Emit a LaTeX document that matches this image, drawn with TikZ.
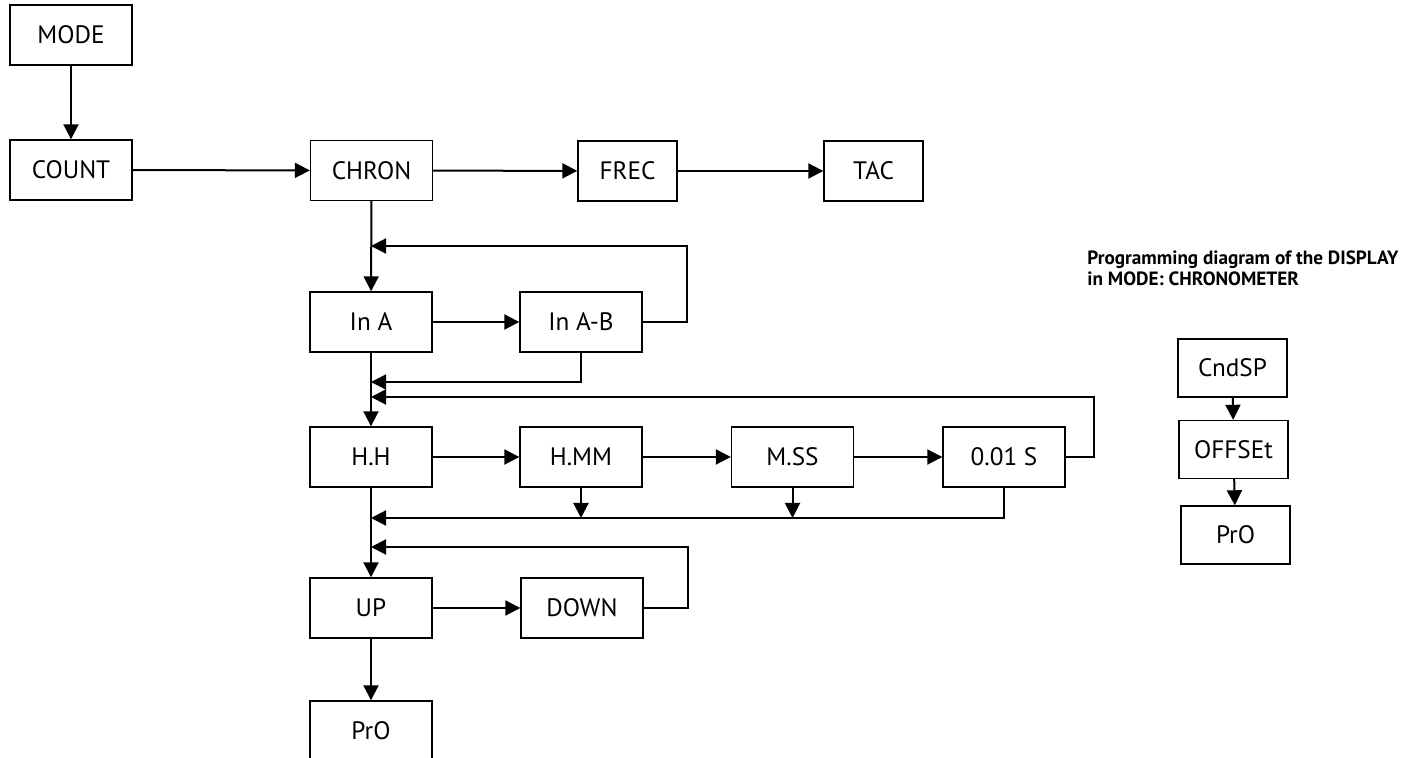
\documentclass[tikz,border=0pt]{standalone}
\usepackage{fontspec}
\setmainfont{PT Sans}
\usetikzlibrary{arrows.meta}

\tikzset{
  box/.style={draw, line width=0.7pt, minimum width=61pt, minimum height=30pt,
    inner sep=0pt, font=\fontsize{12.6}{14}\selectfont},
  smallbox/.style={box, minimum width=49.5pt},
  sidebox/.style={box, minimum width=54.5pt, minimum height=29pt},
  arr/.style={-{Triangle[length=7.5pt,width=7.5pt]}, line width=1pt},
  thinarr/.style={arr, line width=0.7pt}
}

\begin{document}
\begin{tikzpicture}[x=0.5pt, y=-0.5pt]
    % --- frame of the page ---
    \useasboundingbox (0,0) rectangle (1426,758);

    % --- top row ---
    \node[box] (mode)  at (71,35)     {MODE};
    \node[box] (count) at (71,170)    {COUNT};
    \node[box] (chron) at (371.5,170.5) {CHRON};
    \node[smallbox] (frec) at (627.5,171) {FREC};
    \node[smallbox] (tac)  at (873.5,171) {TAC};

    % --- input ---
    \node[box] (ina)  at (371,322) {In A};
    \node[box] (inab) at (581,322) {In A-B};

    % --- time format ---
    \node[box] (hh)  at (371,457)    {H.H};
    \node[box] (hmm) at (581,457)    {H.MM};
    \node[box] (mss) at (792.5,457)  {M.SS};
    \node[box] (cs)  at (1004,457)   {0.01 S};

    % --- direction ---
    \node[box] (up)   at (371,608) {UP};
    \node[box] (down) at (582,608) {DOWN};
    \node[box] (pro)  at (371,731) {PrO};

    % --- junctions on the main line ---
    \coordinate (jin)   at (371,246);
    \coordinate (jfmt)  at (371,382);
    \coordinate (jfmtb) at (371,397);
    \coordinate (jdir)  at (371,518);
    \coordinate (jud)   at (371,547);

    % --- side column ---
    \node[anchor=north west, align=left, inner sep=0pt,
          font=\bfseries\fontsize{9.6}{10.6}\selectfont] (title) at (1087,250)
          {Programming diagram of the DISPLAY\\in MODE: CHRONOMETER};
    \node[sidebox] (cndsp)  at (1232.5,368) {CndSP};
    \node[sidebox] (offset) at (1233.5,449.5) {OFFSEt};
    \node[sidebox] (pro2)   at (1235.5,535) {PrO};

    % --- connectors ---
    \draw[arr] (mode) -- (count);
    \draw[arr] (count) -- (chron);
    \draw[arr] (chron) -- (frec);
    \draw[arr] (frec) -- (tac);

    \draw[arr] (chron) -- (ina);
    \draw[arr] (ina) -- (inab);
    \draw[arr] (inab.east) -- ++(44,0) |- (jin);

    \draw[arr] (ina) -- (hh);
    \draw[thinarr] (inab.south) |- (jfmt);
    \draw[arr] (cs.east) -- ++(28,0) |- (jfmtb);

    \draw[arr] (hh) -- (hmm);
    \draw[arr] (hmm) -- (mss);
    \draw[arr] (mss) -- (cs);
    \draw[arr] (cs.south) |- (jdir);
    \draw[arr] (hmm.south) -- (hmm.south |- jdir);
    \draw[arr] (mss.south) -- (mss.south |- jdir);

    \draw[arr] (hh) -- (up);
    \draw[arr] (up) -- (down);
    \draw[arr] (down.east) -- ++(44,0) |- (jud);
    \draw[arr] (up) -- (pro);

    \draw[arr] (cndsp) -- (offset);
    \draw[arr] (offset) -- (pro2);
\end{tikzpicture}
\end{document}
